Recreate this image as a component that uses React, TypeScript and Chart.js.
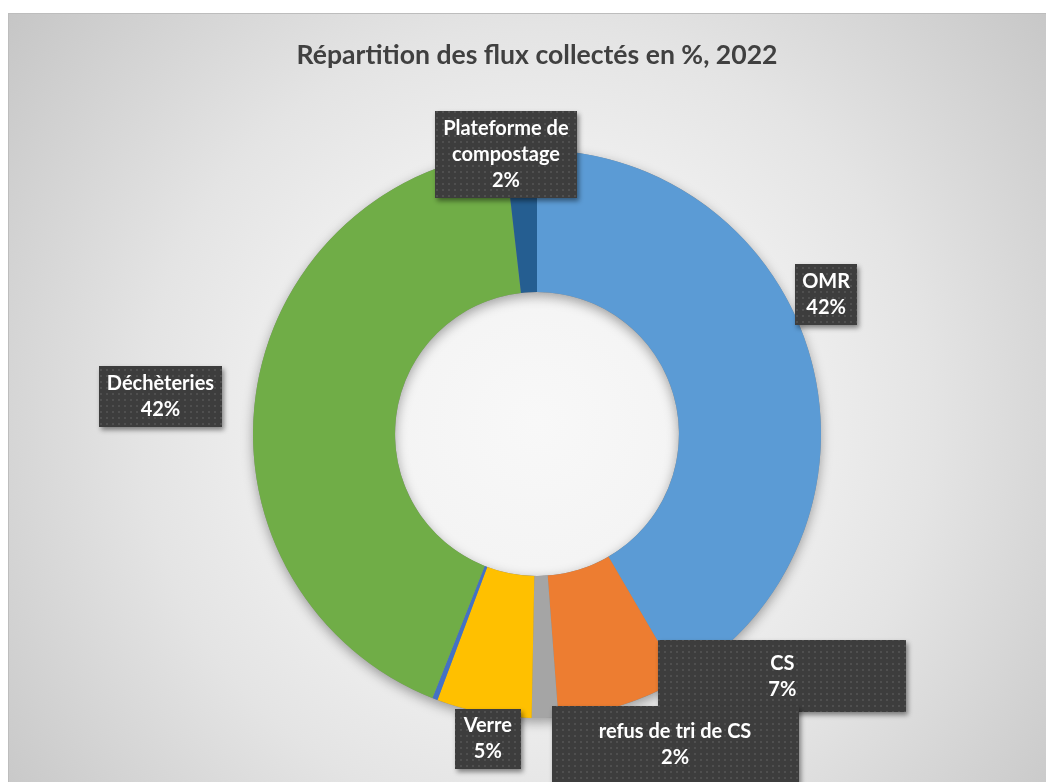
import React, { useEffect, useRef } from "react";
import { Chart, registerables } from "chart.js";

Chart.register(...registerables);

const TITLE = "Répartition des flux collectés en %, 2022";
const categories = [
  "OMR",
  "CS",
  "refus de tri de CS",
  "Verre",
  "Autres",
  "Déchèteries",
  "Plateforme de compostage",
];
const values = [41.6, 7.2, 1.5, 5.4, 0.3, 42.2, 1.8];
const nameLines: string[][] = [
  ["OMR"],
  ["CS"],
  ["refus de tri de CS"],
  ["Verre"],
  [],
  ["Déchèteries"],
  ["Plateforme de", "compostage"],
];
const colors = ["#5B9BD5", "#ED7D31", "#A5A5A5", "#FFC000", "#4472C4", "#70AD47", "#255E91"];

// label box layout (offset from arc outer mid-point, and box size)
const LABEL_OFFSETS: [number, number][] = [
  [15, -65],
  [161, -29],
  [130, 27],
  [4, 26],
  [0, 0],
  [-95, 0],
  [-15, 4],
];
const LABEL_SIZES: [number, number][] = [
  [62, 61],
  [248, 72],
  [247, 78],
  [66, 60],
  [0, 0],
  [123, 61],
  [142, 87],
];

const FONT = "Lato, 'Open Sans', sans-serif";

let patternCache: CanvasPattern | null = null;
function getPattern(ctx: CanvasRenderingContext2D) {
  if (patternCache) return patternCache;
  const c = document.createElement("canvas");
  c.width = 6;
  c.height = 6;
  const p = c.getContext("2d")!;
  p.fillStyle = "#3d3d3d";
  p.fillRect(0, 0, 6, 6);
  p.fillStyle = "#4f4f4f";
  p.fillRect(2, 2, 2, 2);
  patternCache = ctx.createPattern(c, "repeat");
  return patternCache;
}

const bgPlugin = {
  id: "bgPlugin",
  beforeDraw(chart: any) {
    const { ctx, width, height } = chart;
    ctx.save();
    const g = ctx.createRadialGradient(529, 410, 0, 529, 410, 720);
    g.addColorStop(0, "#f8f8f8");
    g.addColorStop(0.3, "#f2f2f2");
    g.addColorStop(0.55, "#e4e4e4");
    g.addColorStop(1, "#c0c0c0");
    ctx.fillStyle = g;
    ctx.fillRect(0, 0, width, height);
    ctx.strokeStyle = "#bdbdbd";
    ctx.lineWidth = 1;
    ctx.strokeRect(0.5, 0.5, width + 10, height + 10);
    // title
    ctx.fillStyle = "#404040";
    ctx.font = `bold 26.6px ${FONT}`;
    ctx.textAlign = "center";
    ctx.textBaseline = "middle";
    ctx.fillText(TITLE, 529, 42);
    ctx.restore();
  },
  beforeDatasetsDraw(chart: any) {
    const meta = chart.getDatasetMeta(0);
    const arc = meta.data[0];
    if (!arc) return;
    const { x, y, outerRadius, innerRadius } = arc.getProps(["x", "y", "outerRadius", "innerRadius"], true);
    const ctx = chart.ctx;
    ctx.save();
    ctx.shadowColor = "rgba(0,0,0,0.35)";
    ctx.shadowBlur = 12;
    ctx.shadowOffsetX = 0;
    ctx.shadowOffsetY = 4;
    ctx.fillStyle = "#888";
    ctx.beginPath();
    ctx.arc(x, y, outerRadius, 0, Math.PI * 2);
    ctx.arc(x, y, innerRadius, 0, Math.PI * 2, true);
    ctx.fill();
    ctx.restore();
  },
  afterDatasetsDraw(chart: any) {
    const meta = chart.getDatasetMeta(0);
    const ctx = chart.ctx as CanvasRenderingContext2D;
    const total = values.reduce((a, b) => a + b, 0);
    meta.data.forEach((arc: any, i: number) => {
      const lines = nameLines[i];
      if (!lines.length) return;
      const { x, y, startAngle, endAngle, outerRadius } = arc.getProps(
        ["x", "y", "startAngle", "endAngle", "outerRadius"],
        true
      );
      const mid = (startAngle + endAngle) / 2;
      const px = x + Math.cos(mid) * outerRadius + LABEL_OFFSETS[i][0];
      const py = y + Math.sin(mid) * outerRadius + LABEL_OFFSETS[i][1];
      const [w, h] = LABEL_SIZES[i];
      ctx.save();
      ctx.shadowColor = "rgba(0,0,0,0.45)";
      ctx.shadowBlur = 5;
      ctx.shadowOffsetX = 2;
      ctx.shadowOffsetY = 3;
      ctx.fillStyle = getPattern(ctx)!;
      ctx.fillRect(Math.round(px - w / 2), Math.round(py - h / 2), w, h);
      ctx.restore();
      const all = [...lines, `${Math.round((values[i] / total) * 100)}%`];
      const lh = 26;
      ctx.save();
      ctx.fillStyle = "#ffffff";
      ctx.font = `bold 20px ${FONT}`;
      ctx.textAlign = "center";
      ctx.textBaseline = "middle";
      const y0 = py - ((all.length - 1) * lh) / 2;
      all.forEach((t, k) => ctx.fillText(t, px, y0 + k * lh));
      ctx.restore();
    });
  },
};

export default function App() {
  const ref = useRef<HTMLCanvasElement>(null);
  useEffect(() => {
    document.body.style.overflow = "hidden";
    if (!ref.current) return;
    const chart = new Chart(ref.current, {
      type: "doughnut",
      data: {
        labels: categories,
        datasets: [
          {
            data: values,
            backgroundColor: colors,
            borderWidth: 0,
          },
        ],
      },
      options: {
        animation: false,
        responsive: true,
        maintainAspectRatio: false,
        cutout: "50%",
        rotation: 0,
        layout: { padding: { left: 245, right: 233, top: 137, bottom: 64 } },
        plugins: {
          legend: { display: false },
          title: { display: false },
          tooltip: { enabled: false },
        },
      },
      plugins: [bgPlugin],
    });
    return () => chart.destroy();
  }, []);
  return (
    <div style={{ width: 1046, height: 769, marginTop: 5, position: "relative" }}>
      <canvas ref={ref} />
    </div>
  );
}
